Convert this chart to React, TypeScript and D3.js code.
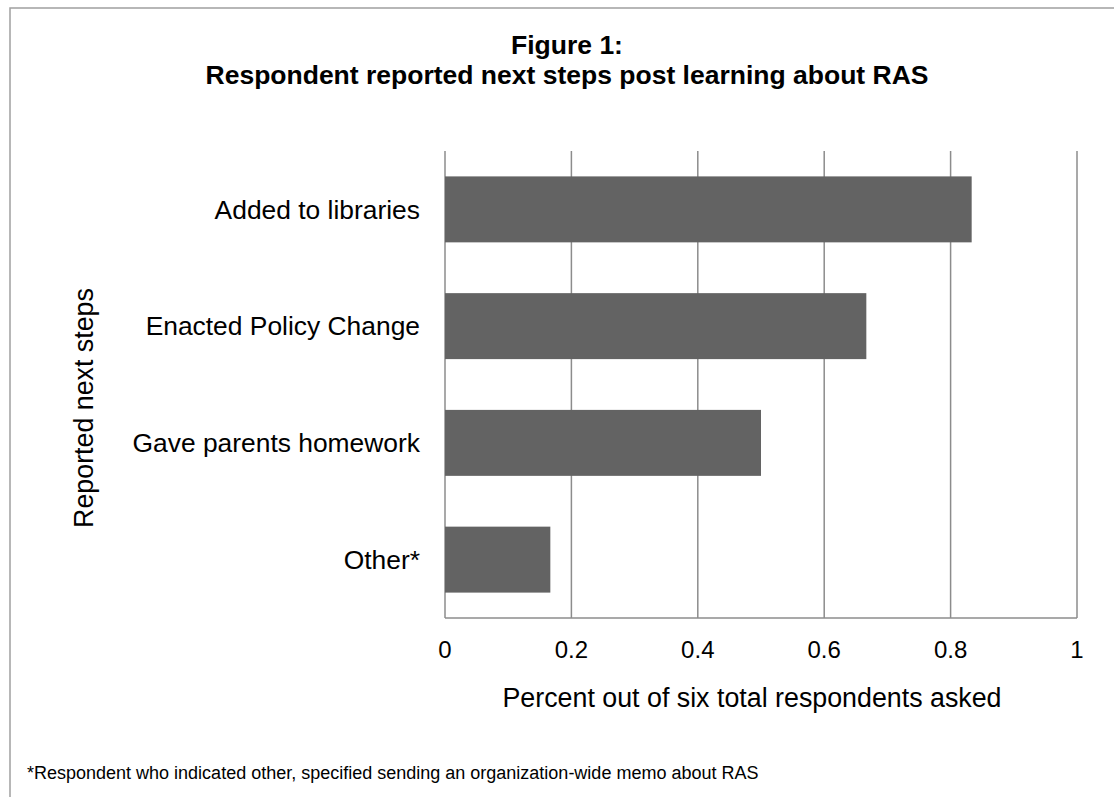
import React from "react";
import * as d3 from "d3";

const categories = ["Added to libraries", "Enacted Policy Change", "Gave parents homework", "Other*"];
const values = [5 / 6, 4 / 6, 3 / 6, 1 / 6];
const xTicks = [0, 0.2, 0.4, 0.6, 0.8, 1];
const titleLines = ["Figure 1:", "Respondent reported next steps post learning about RAS"];
const xTitle = "Percent out of six total respondents asked";
const yTitle = "Reported next steps";
const footnote = "*Respondent who indicated other, specified sending an organization-wide memo about RAS";

export default function App() {
  const W = 1114, H = 797;
  const left = 445, right = 1077, top = 151, bottom = 618;
  const x = d3.scaleLinear().domain([0, 1]).range([left, right]);
  const y = d3.scaleBand<string>().domain(categories).range([top, bottom]).paddingInner(0.435).paddingOuter(0.2175);
  const font = "'Liberation Sans', Arial, sans-serif";
  const grid = "#8c8c8c";
  return (
    <svg width={W} height={H} style={{ position: "absolute", left: 0, top: 0, background: "#fff" }} fontFamily={font}>
      <rect x={10} y={8} width={W} height={H} fill="#fff" stroke="#a0a0a0" strokeWidth={1.5} />
      {titleLines.map((t, i) => (
        <text key={i} x={567} y={54 + i * 30} textAnchor="middle" fontWeight="bold" fontSize={26.5} fill="#000">{t}</text>
      ))}
      {xTicks.map((t) => (
        <line key={"g" + t} x1={x(t)} x2={x(t)} y1={top} y2={bottom} stroke={grid} strokeWidth={1.5} />
      ))}
      <line x1={left} x2={right} y1={bottom} y2={bottom} stroke={grid} strokeWidth={1.5} />
      {categories.map((c, i) => (
        <rect key={c} x={x(0)} y={y(c)!} width={x(values[i]) - x(0)} height={y.bandwidth()} fill="#636363" />
      ))}
      {categories.map((c) => (
        <text key={"l" + c} x={420} y={y(c)! + y.bandwidth() / 2} dy="0.35em" textAnchor="end" fontSize={26.4} fill="#000">{c}</text>
      ))}
      {xTicks.map((t) => (
        <text key={"t" + t} x={x(t)} y={650} dy="0.35em" textAnchor="middle" fontSize={24} fill="#000">{d3.format("")(t)}</text>
      ))}
      <text x={752} y={698} dy="0.35em" textAnchor="middle" fontSize={26.8} fill="#000">{xTitle}</text>
      <text transform={`translate(84,408) rotate(-90)`} dy="0.35em" textAnchor="middle" fontSize={26.8} fill="#000">{yTitle}</text>
      <text x={27} y={779} fontSize={18} fill="#000">{footnote}</text>
    </svg>
  );
}
